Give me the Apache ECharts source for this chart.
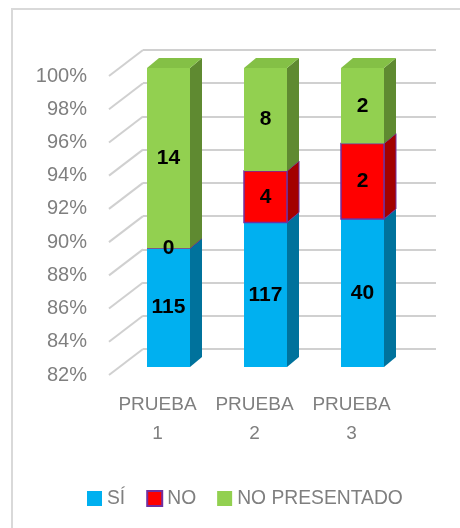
<!DOCTYPE html>
<html><head><meta charset="utf-8">
<script src="https://cdn.jsdelivr.net/npm/echarts@6/dist/echarts.min.js"></script>
<style>html,body{margin:0;padding:0;background:#fff}#c{width:460px;height:528px}</style>
</head><body><div id="c"></div>
<script>
// ---- data ----
const categories = ['PRUEBA\n1', 'PRUEBA\n2', 'PRUEBA\n3'];
const seriesNames = ['SÍ', 'NO', 'NO PRESENTADO'];
const siValues = [115, 117, 40];
const noValues = [0, 4, 2];
const npValues = [14, 8, 2];
const yTickValues = [82, 84, 86, 88, 90, 92, 94, 96, 98, 100];

// ---- styles ----
const Y_MIN = 82, Y_MAX = 100;
const FONT = 'Liberation Sans';
const GRAY = '#7f7f7f';
const DX = 12, DY = 10;          // bar depth
const WX = 34, WY = 26;          // wall offset
const BAR_RATIO = 43 / 97;
const faceColors = [
  { front: '#00B0F0', side: '#00729c', top: '#19b8f2', border: null },
  { front: '#FF0000', side: '#a30000', top: '#e00000', border: '#7030A0' },
  { front: '#92D050', side: '#5f8a31', top: '#84c046', border: null }
];

const allSeries = [siValues, noValues, npValues];
const totals = categories.map((c, i) => siValues[i] + noValues[i] + npValues[i]);

function buildSegments(sIdx) {
  return categories.map((c, i) => {
    let lo = 0;
    for (let k = 0; k < sIdx; k++) lo += allSeries[k][i];
    const hi = lo + allSeries[sIdx][i];
    return [i, Math.max(lo / totals[i] * 100, Y_MIN), hi / totals[i] * 100, allSeries[sIdx][i]];
  });
}

function makeRender(sIdx) {
  const col = faceColors[sIdx];
  return function (params, api) {
    const cat = api.value(0), lo = api.value(1), hi = api.value(2), cnt = api.value(3);
    const pb = api.coord([cat, lo]);
    const pt = api.coord([cat, hi]);
    const w = api.size([1, 0])[0] * BAR_RATIO;
    const x0 = pb[0] - w / 2, x1 = pb[0] + w / 2, yb = pb[1], yt = pt[1];
    const bw = col.border ? 1.5 : 0;
    const children = [
      { type: 'polygon', z2: sIdx,
        shape: { points: [[x1, yb], [x1 + DX, yb - DY], [x1 + DX, yt - DY], [x1, yt]] },
        style: { fill: col.side, stroke: col.border || col.side, lineWidth: bw ? 1 : 0 } },
      { type: 'polygon', z2: sIdx,
        shape: { points: [[x0, yt], [x1, yt], [x1 + DX, yt - DY], [x0 + DX, yt - DY]] },
        style: { fill: col.top, stroke: col.border || col.top, lineWidth: bw ? 1 : 0 } },
      { type: 'rect', z2: sIdx,
        shape: { x: x0, y: yt, width: w, height: yb - yt },
        style: { fill: col.front, stroke: col.border || col.front, lineWidth: bw } },
      { type: 'text', z2: 50,
        style: { x: pb[0], y: (yb + yt) / 2, text: String(cnt), fill: '#000',
          font: 'bold 21px "' + FONT + '"', align: 'center', verticalAlign: 'middle' } }
    ];
    return { type: 'group', children: children };
  };
}

const chart = echarts.init(document.getElementById('c'), null, { renderer: 'canvas' });

const barSeries = seriesNames.map((name, sIdx) => ({
  name: name,
  type: 'custom',
  xAxisIndex: 2, yAxisIndex: 2,
  itemStyle: { color: faceColors[sIdx].front },
  renderItem: makeRender(sIdx),
  encode: { x: 0, y: [1, 2] },
  data: buildSegments(sIdx),
  silent: true
}));

const diagSeries = {
  type: 'custom',
  xAxisIndex: 0, yAxisIndex: 0,
  silent: true,
  renderItem: function (params, api) {
    const p = api.coord([0, api.value(0)]);
    const x = params.coordSys.x;
    return { type: 'line', z2: 0,
      shape: { x1: x, y1: p[1], x2: x + WX, y2: p[1] - WY },
      style: { stroke: '#d0d0d0', lineWidth: 2 } };
  },
  encode: { y: 0 },
  data: yTickValues.map(v => [v])
};

chart.setOption({
  animation: false,
  backgroundColor: '#fff',
  textStyle: { fontFamily: FONT },
  graphic: [{ type: 'rect', shape: { x: 12, y: 9, width: 470, height: 540 },
    style: { fill: 'none', stroke: '#d9d9d9', lineWidth: 2 }, silent: true }],
  legend: {
    left: 87, top: 489, padding: 0,
    icon: 'rect', itemWidth: 15, itemHeight: 15, itemGap: 21,
    textStyle: { color: GRAY, fontSize: 19.3, fontFamily: FONT },
    data: [
      { name: 'SÍ' },
      { name: 'NO', itemStyle: { color: '#FF0000', borderColor: '#7030A0', borderWidth: 2 } },
      { name: 'NO PRESENTADO' }
    ],
    selectedMode: false
  },
  grid: [
    { left: 109, right: 60, top: 76, bottom: 153 },   // front plane (labels)
    { left: 143, right: 24, top: 50, bottom: 179 },   // back wall (gridlines)
    { left: 120, right: 49, top: 68, bottom: 161 }    // bar plane
  ],
  xAxis: [
    { gridIndex: 0, type: 'category', data: categories,
      axisLine: { show: false }, axisTick: { show: false },
      axisLabel: { color: GRAY, fontSize: 19, fontFamily: FONT, lineHeight: 29, margin: 15, interval: 0 } },
    { gridIndex: 1, type: 'category', data: categories, show: false },
    { gridIndex: 2, type: 'category', data: categories, show: false }
  ],
  yAxis: [
    { gridIndex: 0, type: 'value', min: Y_MIN, max: Y_MAX, interval: 2,
      axisLine: { show: false }, axisTick: { show: false }, splitLine: { show: false },
      axisLabel: { color: GRAY, fontSize: 20, fontFamily: FONT, margin: 22, formatter: '{value}%' } },
    { gridIndex: 1, type: 'value', min: Y_MIN, max: Y_MAX, interval: 2,
      axisLine: { show: false }, axisTick: { show: false }, axisLabel: { show: false },
      splitLine: { show: true, lineStyle: { color: '#d0d0d0', width: 2 } } },
    { gridIndex: 2, type: 'value', min: Y_MIN, max: Y_MAX, interval: 2, show: false }
  ],
  series: [diagSeries].concat(barSeries)
});
</script>
</body></html>
